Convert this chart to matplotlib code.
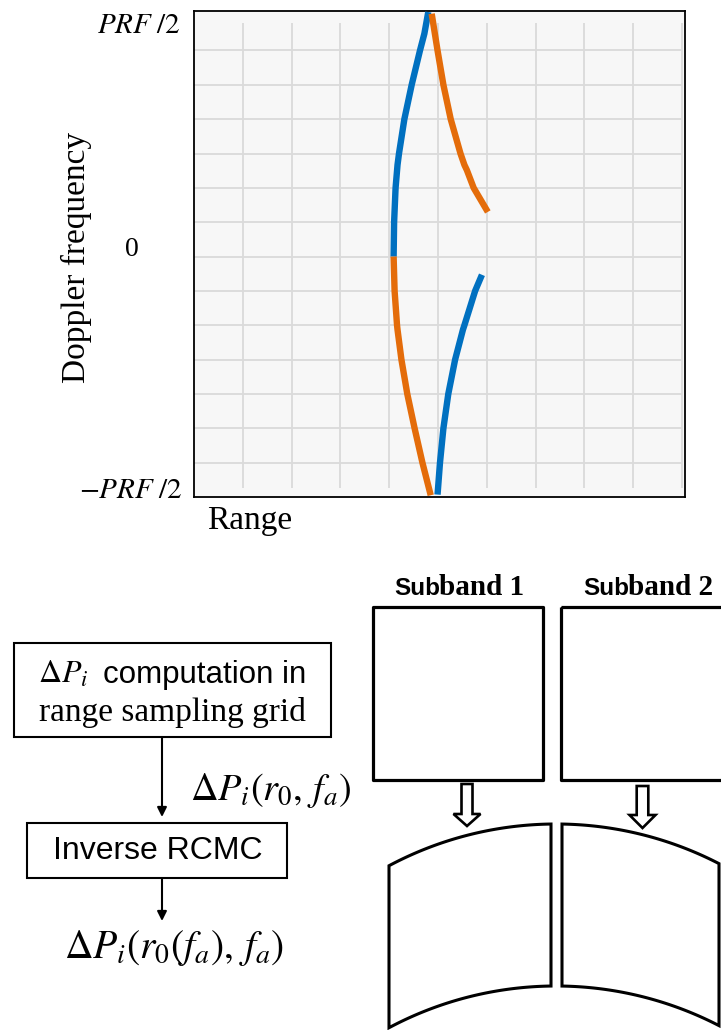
import numpy as np
import matplotlib
matplotlib.use("Agg")
from matplotlib import pyplot as plt
from matplotlib.patches import Rectangle, Polygon

plt.rcParams['mathtext.fontset'] = 'stix'

# range-cell positions (grid units) of the two targets vs Doppler (grid units)
blue_up_f = [0, 1, 2, 2.67, 3, 4, 5, 6, 6.49, 7.12]
blue_up_r = [4.09, 4.10, 4.13, 4.17, 4.20, 4.31, 4.46, 4.63, 4.72, 4.80]
orange_up_f = [7.07, 6, 5, 4, 3, 2.67, 2.52, 2, 1.30]
orange_up_r = [4.87, 4.99, 5.11, 5.26, 5.46, 5.54, 5.59, 5.73, 6.02]
orange_lo_f = [0, -1, -2, -2.13, -3, -4, -5, -6, -6.95]
orange_lo_r = [4.09, 4.11, 4.16, 4.17, 4.25, 4.37, 4.52, 4.68, 4.85]
blue_lo_f = [-0.53, -1, -2, -2.13, -3, -4, -5, -6, -6.93]
blue_lo_r = [5.90, 5.76, 5.54, 5.51, 5.35, 5.21, 5.11, 5.04, 4.99]

ytick_labels = [r'$PRF\;/2$', '0', r'$-PRF\;/2$']
subbands = ['1', '2']

BLUE = '#0070C0'
ORANGE = '#E46C0A'
W, H = 721, 1030

fig = plt.figure(figsize=(W / 100, H / 100), dpi=100)

# ---- range / Doppler plot ----
ax = fig.add_axes([194 / W, 1 - 497 / H, 491 / W, 486 / H])
ax.set_facecolor('#f7f7f7')
ax.set_xlim(0, 10.06)
ax.set_ylim(-7, 7.15)
ax.hlines(np.arange(-6, 7), 0, 10, color='#dadada', lw=1.3, zorder=1)
ax.vlines(np.arange(1, 11), -6.73, 6.79, color='#dadada', lw=1.3, zorder=1)
kw = dict(lw=4.6, solid_capstyle='butt', solid_joinstyle='round', zorder=3)
ax.plot(blue_up_r, blue_up_f, color=BLUE, **kw)
ax.plot(orange_up_r, orange_up_f, color=ORANGE, **kw)
ax.plot(orange_lo_r, orange_lo_f, color=ORANGE, **kw)
ax.plot(blue_lo_r, blue_lo_f, color=BLUE, **kw)
ax.set_xticks([])
ax.set_yticks([])
for s in ax.spines.values():
    s.set_linewidth(1.3)
    s.set_color('black')

# ---- overlay in pixel coordinates for labels and the diagram ----
ov = fig.add_axes([0, 0, 1, 1], zorder=5)
ov.set_xlim(0, W)
ov.set_ylim(H, 0)
ov.axis('off')
ov.patch.set_visible(False)

serif = 'Liberation Serif'
sans = 'Liberation Sans'

ov.text(180, 25, ytick_labels[0], ha='right', va='center', fontsize=21)
ov.text(132, 250, ytick_labels[1], ha='center', va='center', fontsize=20, family=serif)
ov.text(182, 490, ytick_labels[2], ha='right', va='center', fontsize=21)
ov.text(76, 257, 'Doppler frequency', rotation=90, ha='center', va='center',
        fontsize=24, family=serif)
ov.text(207, 521, 'Range', ha='left', va='center', fontsize=24, family=serif)

# flow chart
lw_box = 1.5
ov.add_patch(Rectangle((14, 643), 317, 94, fill=False, lw=lw_box, ec='black'))
ov.text(38, 683, r'$\Delta P_i$', ha='left', va='baseline', fontsize=23)
ov.text(103, 683, 'computation in', ha='left', va='baseline', fontsize=22.5, family=sans)
ov.text(172, 721, 'range sampling grid', ha='center', va='baseline', fontsize=24, family=serif)
ov.annotate('', xy=(162, 817), xytext=(162, 737),
            arrowprops=dict(arrowstyle='-|>', lw=1.5, color='black', mutation_scale=14,
                            shrinkA=0, shrinkB=0))
ov.text(190, 790, r'$\Delta P_i(r_0,\, f_a)$', ha='left', va='center', fontsize=27.5)
ov.add_patch(Rectangle((27, 823), 260, 55, fill=False, lw=lw_box, ec='black'))
ov.text(158, 851, 'Inverse RCMC', ha='center', va='center', fontsize=23, family=sans)
ov.annotate('', xy=(162, 921), xytext=(162, 878),
            arrowprops=dict(arrowstyle='-|>', lw=1.5, color='black', mutation_scale=14,
                            shrinkA=0, shrinkB=0))
ov.text(174, 948, r'$\Delta P_i(r_0(f_a),\, f_a)$', ha='center', va='center', fontsize=28.5)

# sub-band blocks
for i, (x0, x1, sx) in enumerate([(373, 543, 394), (561, 745, 583)]):
    ov.add_patch(Rectangle((x0, 607), x1 - x0, 173, fill=False, lw=2.3, ec='black',
                           joinstyle='round'))
    ov.text(sx, 595, 'Sub', ha='left', va='baseline', fontsize=17.5, weight='bold', family=sans)
    ov.text(sx + 45, 595, 'band ' + subbands[i], ha='left', va='baseline', fontsize=21,
            weight='bold', family=serif)

# hollow down arrows
for cx, top, base, tip, sw, hw in [(467, 784, 814, 826, 5.5, 13.5), (642.5, 786, 815, 828, 5.8, 13)]:
    pts = [(cx - sw, top), (cx + sw, top), (cx + sw, base), (cx + hw, base), (cx, tip),
           (cx - hw, base), (cx - sw, base)]
    ov.add_patch(Polygon(pts, closed=True, fill=True, fc='white', ec='black', lw=1.9))

# curved blocks after range cell migration
xc, r = 556, 355
def arc(xa, xb, yc):
    xs = np.linspace(xa, xb, 60)
    return xs, yc - np.sqrt(r ** 2 - (xs - xc) ** 2)

for xa, xb in [(389, 551), (562, 719)]:
    tx, ty = arc(xa, xb, 1179)
    bx, by = arc(xa, xb, 1341)
    px = np.concatenate([tx, bx[::-1]])
    py = np.concatenate([ty, by[::-1]])
    ov.add_patch(Polygon(np.column_stack([px, py]), closed=True, fill=False, ec='black',
                         lw=2.2, clip_on=True))

fig.savefig('out.png', dpi=100)
